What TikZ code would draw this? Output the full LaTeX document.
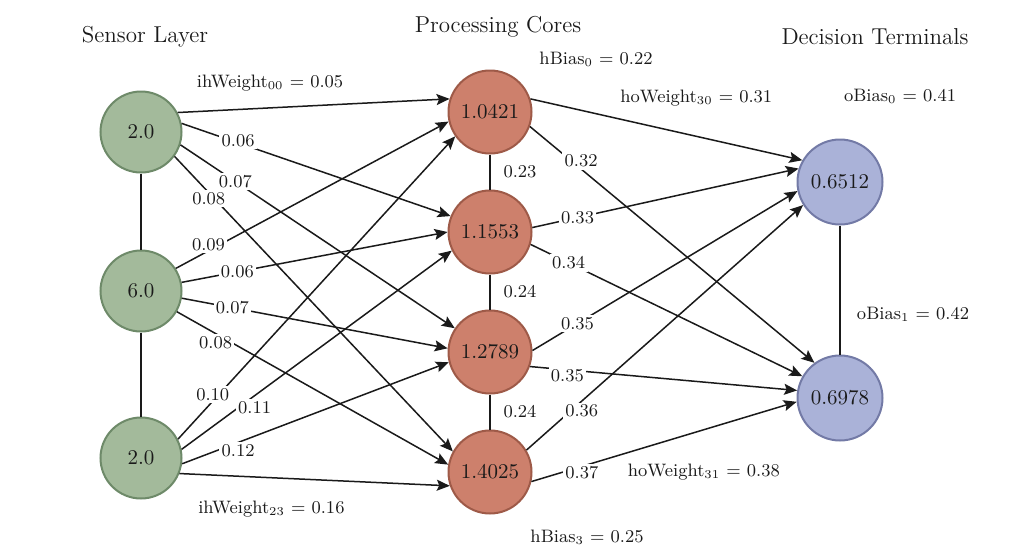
\documentclass[tikz,border=0pt]{standalone}
\usepackage{tikz}
\usetikzlibrary{arrows.meta}
\definecolor{senGreen}{HTML}{A3BA9B}
\definecolor{senEdge}{HTML}{6E8A69}
\definecolor{coreRed}{HTML}{CD806C}
\definecolor{coreEdge}{HTML}{9E5A48}
\definecolor{termBlue}{HTML}{AAB2D8}
\definecolor{termEdge}{HTML}{737AA6}
\definecolor{inkDark}{HTML}{1A1A1A}

\begin{document}
\begin{tikzpicture}[x=0.5pt,y=-0.5pt,
  neuron/.style={circle,line width=1pt,inner sep=0pt,text=inkDark,font=\fontsize{10.5}{12}\selectfont},
  sensor/.style={neuron,fill=senGreen,draw=senEdge,minimum size=40.5pt},
  core/.style={neuron,fill=coreRed,draw=coreEdge,minimum size=41.5pt},
  term/.style={neuron,fill=termBlue,draw=termEdge,minimum size=42.5pt},
  wire/.style={draw=inkDark,line width=0.75pt},
  feed/.style={wire,-{Stealth[length=6.5pt,width=5.5pt,inset=1.2pt]}},
  wlab/.style={fill=white,inner sep=1.2pt,text=inkDark,font=\fontsize{9}{11}\selectfont},
  biasLab/.style={inner sep=0pt,text=inkDark,font=\fontsize{9}{11}\selectfont},
  layerTitle/.style={inner sep=0pt,text=inkDark,font=\fontsize{11.5}{14}\selectfont}]
  \fill[white] (0,0) rectangle (1024,558);
  \useasboundingbox (0,0) rectangle (1024,558);

  \node[layerTitle] (tSen) at (145,37) {Sensor Layer};
  \node[layerTitle] (tCore) at (498,27) {Processing Cores};
  \node[layerTitle] (tTerm) at (875,37) {Decision Terminals};

  \node[sensor] (s0) at (141,132) {2.0};
  \node[sensor] (s1) at (141,291) {6.0};
  \node[sensor] (s2) at (141,458) {2.0};
  \node[core] (c0) at (490,112) {1.0421};
  \node[core] (c1) at (490,232) {1.1553};
  \node[core] (c2) at (490,352) {1.2789};
  \node[core] (c3) at (490,472) {1.4025};
  \node[term] (d0) at (840,182) {0.6512};
  \node[term] (d1) at (840,398) {0.6978};

  % связи внутри слоёв
  \draw[wire] (s0) -- (s1);
  \draw[wire] (s1) -- (s2);
  \draw[wire] (c0) -- (c1) node[biasLab,midway,xshift=15pt] {0.23};
  \draw[wire] (c1) -- (c2) node[biasLab,midway,xshift=15pt] {0.24};
  \draw[wire] (c2) -- (c3) node[biasLab,midway,xshift=15pt] {0.24};
  \draw[wire] (d0) -- (d1);

  % sensor -> cores
  \draw[feed] (s0.28) -- (c0.162) node[biasLab,pos=0.34,yshift=12.5pt] {ihWeight$_{00}$ = 0.05};
  \draw[feed] (s0.12) -- (c1.158) node[wlab,pos=0.21,yshift=1pt] {0.06};
  \draw[feed] (s0.-18) -- (c2.146) node[wlab,pos=0.20] {0.07};
  \draw[feed] (s0.-36) -- (c3.151) node[wlab,pos=0.13,xshift=-1pt,yshift=-2pt] {0.08};
  \draw[feed] (s1.33) -- (c0.193) node[wlab,pos=0.12,yshift=3pt] {0.09};
  \draw[feed] (s1.12) -- (c1.180) node[wlab,pos=0.21] {0.06};
  \draw[feed] (s1.-10) -- (c2.175) node[wlab,pos=0.19] {0.07};
  \draw[feed] (s1.-30) -- (c3.170) node[wlab,pos=0.15,xshift=-1pt,yshift=-4pt] {0.08};
  \draw[feed] (s2.27) -- (c0.215) node[wlab,pos=0.14,xshift=-2pt,yshift=1pt] {0.10};
  \draw[feed] (s2.12) -- (c1.206) node[wlab,pos=0.27,yshift=-6pt] {0.11};
  \draw[feed] (s2.-8) -- (c2.194) node[wlab,pos=0.21,yshift=-4pt] {0.12};
  \draw[feed] (s2.-22) -- (c3.199) node[biasLab,pos=0.34,yshift=-15.5pt] {ihWeight$_{23}$ = 0.16};

  % cores -> terminals
  \draw[feed] (c0.18) -- (d0.150) node[biasLab,pos=0.61,yshift=19pt] {hoWeight$_{30}$ = 0.31};
  \draw[feed] (c0.-20) -- (d1.126) node[wlab,pos=0.18,yshift=4pt] {0.32};
  \draw[feed] (c1.6) -- (d0.162) node[wlab,pos=0.17] {0.33};
  \draw[feed] (c1.-17) -- (d1.150) node[wlab,pos=0.14] {0.34};
  \draw[feed] (c2.2) -- (d0.192) node[wlab,pos=0.17] {0.35};
  \draw[feed] (c2.-20) -- (d1.170) node[wlab,pos=0.14,yshift=-3pt] {0.35};
  \draw[feed] (c3.31) -- (d0.212) node[wlab,pos=0.20,yshift=-5pt] {0.36};
  \draw[feed] (c3.-13) -- (d1.185) node[wlab,pos=0.19,yshift=-3pt] {0.37}
    node[biasLab,pos=0.65,yshift=-21pt] {hoWeight$_{31}$ = 0.38};

  \node[biasLab] (hb0) at (596,59) {hBias$_0$ = 0.22};
  \node[biasLab] (hb3) at (587,537) {hBias$_3$ = 0.25};
  \node[biasLab] (ob0) at (900,96) {oBias$_0$ = 0.41};
  \node[biasLab] (ob1) at (913,314) {oBias$_1$ = 0.42};
\end{tikzpicture}
\end{document}
